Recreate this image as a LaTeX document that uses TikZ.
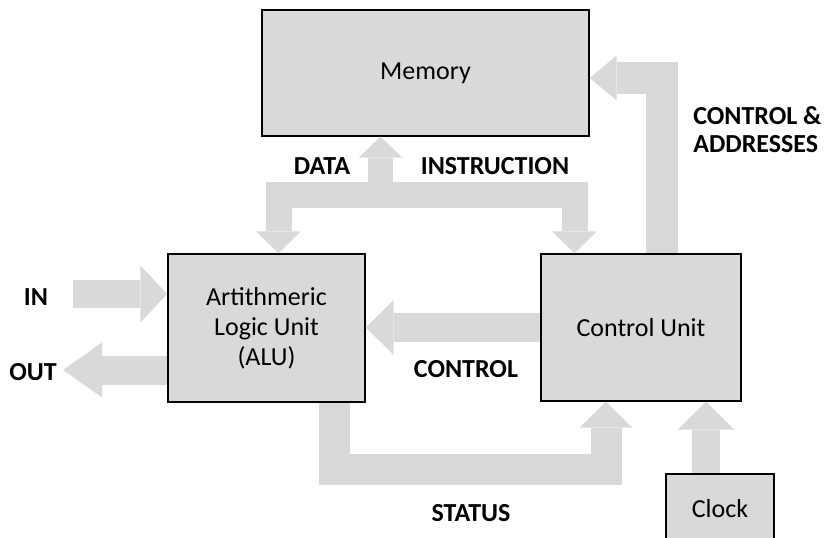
\documentclass[tikz,border=0pt]{standalone}
\usepackage{fontspec}
\setmainfont{Carlito}
\usetikzlibrary{arrows.meta,calc}
\definecolor{unitgray}{HTML}{D9D9D9}

\begin{document}
\begin{tikzpicture}[x=0.75pt,y=0.75pt,yscale=-1,xscale=1,
	unit/.style={draw=black,line width=1.1pt,fill=unitgray,align=center,inner sep=0pt,font=\fontsize{19.5}{22.5}\selectfont},
	flow/.style={draw=unitgray,line join=miter},
	tag/.style={inner sep=0pt,font=\bfseries\fontsize{19.5}{21}\selectfont}]
	\useasboundingbox (0,0) rectangle (827,538);
	% blocks
	\node[unit,minimum width=245.25pt,minimum height=94.5pt] (memory) at (425.5,73) {Memory};
	\node[unit,minimum width=147.75pt,minimum height=111pt] (alu) at (266.5,328) {Artithmeric\\Logic Unit\\(ALU)};
	\node[unit,minimum width=150pt,minimum height=110.25pt] (cu) at (641,327.5) {Control Unit};
	\node[unit,minimum width=81pt,minimum height=52.5pt] (clock) at (720,509) {Clock};
	% data / instruction bus
	\draw[flow,line width=19.5pt,{Triangle[length=16.5pt,width=33.75pt,line width=0pt]}-{Triangle[length=16.5pt,width=33.75pt,line width=0pt]}] ($(alu.north)+(12,0)$) |- ($(memory.south)+(0,58.5)$) -| ($(cu.north)+(-66.5,0)$);
	\draw[flow,line width=18.75pt,-{Triangle[length=15.75pt,width=33pt,line width=0pt]}] ($(memory.south)+(-45,58.5)$) -- ($(memory.south)+(-45,0)$);
	% control and addresses
	\draw[flow,line width=24pt,-{Triangle[length=20.25pt,width=33.75pt,line width=0pt]}] ($(cu.north)+(21,0)$) |- ($(memory.east)+(0,5)$);
	% control
	\draw[flow,line width=21.75pt,-{Triangle[length=21pt,width=41.25pt,line width=0pt]}] (cu.west) -- (cu.west -| alu.east);
	% in / out
	\coordinate (infeed) at (73,294);
	\coordinate (outlet) at (63,370);
	\draw[flow,line width=21pt,-{Triangle[length=20.25pt,width=42.75pt,line width=0pt]}] (infeed) -- (infeed -| alu.west);
	\draw[flow,line width=21.75pt,-{Triangle[length=29.25pt,width=41.25pt,line width=0pt]}] (outlet -| alu.west) -- (outlet);
	% status
	\draw[flow,line width=23.25pt,-{Triangle[length=19.5pt,width=39.75pt,line width=0pt]}] ($(alu.south)+(68,0)$) -- ++(0,67) -| ($(cu.south)+(-35,0)$);
	% clock
	\coordinate (tick) at ($(clock.north)+(-14,0)$);
	\draw[flow,line width=21pt,-{Triangle[length=21pt,width=42.75pt,line width=0pt]}] (tick) -- (tick |- cu.south);
	% labels
	\node[tag] (inlbl) at (36,297) {IN};
	\node[tag] (outlbl) at (33,372) {OUT};
	\node[tag] (datalbl) at (322,166) {DATA};
	\node[tag] (instrlbl) at (495,166) {INSTRUCTION};
	\node[tag] (ctrllbl) at (466,369) {CONTROL};
	\node[tag,align=left,anchor=west] (addrlbl) at (693,130) {CONTROL \&\\ADDRESSES};
	\node[tag] (statlbl) at (471,513) {STATUS};
\end{tikzpicture}
\end{document}
